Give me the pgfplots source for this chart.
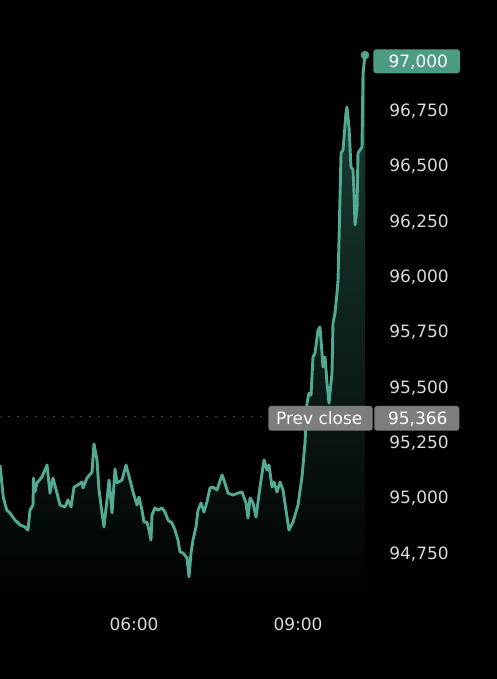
\documentclass[border=0pt]{standalone}
\usepackage{fontspec}
\setmainfont{DejaVu Sans}
\usepackage{pgfplots}
\pgfplotsset{compat=1.18}
\definecolor{lineteal}{RGB}{82,170,146}
\definecolor{boxteal}{RGB}{76,156,132}
\definecolor{fillteal}{RGB}{28,66,57}
\definecolor{boxgray}{RGB}{125,125,125}
\definecolor{ticktxt}{RGB}{218,218,218}
\definecolor{dotgray}{RGB}{140,140,140}
\begin{document}
\begin{tikzpicture}[x=1pt,y=1pt]
\useasboundingbox (0,0) rectangle (497,679);
\fill[black] (0,0) rectangle (497,679);
\begin{axis}[
  at={(0pt,70.9pt)}, anchor=south west,
  scale only axis, width=365pt, height=575.1pt,
  xmin=3.549, xmax=10.2255, ymin=94500, ymax=97100,
  clip=false,
  scaled x ticks=false, scaled y ticks=false,
  axis line style={draw=none}, tick style={draw=none},
  xtick={6,9}, xticklabels={06:00,09:00},
  ytick={94750,95000,95250,95500,95750,96000,96250,96500,96750},
  yticklabels={{94,750},{95,000},{95,250},{95,500},{95,750},{96,000},{96,250},{96,500},{96,750}},
  yticklabel pos=right,
  every tick label/.append style={font=\fontsize{17}{20}\selectfont, text=ticktxt, inner sep=0pt},
  xticklabel style={anchor=base, yshift=-22.8pt},
  yticklabel style={anchor=base east, xshift=84pt, yshift=-6.2pt},
  /pgf/number format/assume math mode=true,
]
% area fill
\addplot[draw=none, top color=fillteal, bottom color=black] coordinates {
(3.549,95147)(3.609,95002)(3.672,94943)(3.732,94930)(3.823,94898)(3.915,94876)(4.006,94867)(4.061,94853)
(4.098,94943)(4.153,94966)(4.162,95088)(4.189,95025)(4.226,95066)(4.317,95093)(4.409,95147)(4.464,95020)
(4.518,95088)(4.592,95020)(4.646,94966)(4.738,94957)(4.793,94989)(4.848,94957)(4.903,95047)(4.976,95057)
(5.049,95070)(5.067,95043)(5.140,95088)(5.232,95115)(5.268,95242)(5.323,95170)(5.360,95034)(5.415,94930)
(5.451,94867)(5.506,94989)(5.543,95079)(5.598,94930)(5.653,95129)(5.689,95066)(5.781,95079)(5.854,95147)
(5.927,95079)(5.982,95025)(6.055,94966)(6.092,95002)(6.146,94943)(6.183,94889)(6.238,94889)(6.274,94853)
(6.311,94808)(6.329,94921)(6.384,94953)(6.439,94943)(6.512,94953)(6.567,94934)(6.622,94898)(6.695,94885)
(6.750,94853)(6.805,94808)(6.841,94754)(6.896,94749)(6.970,94727)(7.006,94641)(7.043,94749)(7.079,94808)
(7.134,94867)(7.171,94943)(7.226,94975)(7.280,94934)(7.335,94980)(7.390,95043)(7.445,95047)(7.518,95034)
(7.610,95102)(7.646,95079)(7.720,95020)(7.811,95011)(7.902,95020)(7.976,95025)(8.049,94975)(8.085,94907)
(8.122,94998)(8.177,94975)(8.232,94912)(8.305,95047)(8.378,95170)(8.433,95124)(8.470,95147)(8.524,95047)
(8.561,95070)(8.616,95025)(8.671,95070)(8.726,95034)(8.780,94943)(8.835,94853)(8.908,94889)(9.000,94966)
(9.073,95093)(9.128,95246)(9.165,95427)(9.201,95472)(9.238,95463)(9.274,95635)(9.311,95653)(9.366,95757)
(9.402,95771)(9.439,95653)(9.457,95590)(9.494,95635)(9.530,95518)(9.567,95427)(9.622,95563)(9.640,95789)
(9.677,95834)(9.713,95924)(9.732,95983)(9.750,96164)(9.787,96557)(9.823,96571)(9.878,96738)(9.896,96765)
(9.933,96675)(9.969,96494)(10.006,96481)(10.024,96377)(10.043,96232)(10.079,96300)(10.097,96557)(10.134,96571)
(10.171,96585)(10.189,96917)(10.2255,97000)
} \closedcycle;
% prev close dotted line
\addplot[dotgray, line width=1.3pt, line cap=round, dash pattern=on 0pt off 9pt] coordinates {(3.549,95366)(8.43,95366)};
% price line
\addplot[lineteal, line width=2.9pt, line join=round] coordinates {
(3.549,95147)(3.609,95002)(3.672,94943)(3.732,94930)(3.823,94898)(3.915,94876)(4.006,94867)(4.061,94853)
(4.098,94943)(4.153,94966)(4.162,95088)(4.189,95025)(4.226,95066)(4.317,95093)(4.409,95147)(4.464,95020)
(4.518,95088)(4.592,95020)(4.646,94966)(4.738,94957)(4.793,94989)(4.848,94957)(4.903,95047)(4.976,95057)
(5.049,95070)(5.067,95043)(5.140,95088)(5.232,95115)(5.268,95242)(5.323,95170)(5.360,95034)(5.415,94930)
(5.451,94867)(5.506,94989)(5.543,95079)(5.598,94930)(5.653,95129)(5.689,95066)(5.781,95079)(5.854,95147)
(5.927,95079)(5.982,95025)(6.055,94966)(6.092,95002)(6.146,94943)(6.183,94889)(6.238,94889)(6.274,94853)
(6.311,94808)(6.329,94921)(6.384,94953)(6.439,94943)(6.512,94953)(6.567,94934)(6.622,94898)(6.695,94885)
(6.750,94853)(6.805,94808)(6.841,94754)(6.896,94749)(6.970,94727)(7.006,94641)(7.043,94749)(7.079,94808)
(7.134,94867)(7.171,94943)(7.226,94975)(7.280,94934)(7.335,94980)(7.390,95043)(7.445,95047)(7.518,95034)
(7.610,95102)(7.646,95079)(7.720,95020)(7.811,95011)(7.902,95020)(7.976,95025)(8.049,94975)(8.085,94907)
(8.122,94998)(8.177,94975)(8.232,94912)(8.305,95047)(8.378,95170)(8.433,95124)(8.470,95147)(8.524,95047)
(8.561,95070)(8.616,95025)(8.671,95070)(8.726,95034)(8.780,94943)(8.835,94853)(8.908,94889)(9.000,94966)
(9.073,95093)(9.128,95246)(9.165,95427)(9.201,95472)(9.238,95463)(9.274,95635)(9.311,95653)(9.366,95757)
(9.402,95771)(9.439,95653)(9.457,95590)(9.494,95635)(9.530,95518)(9.567,95427)(9.622,95563)(9.640,95789)
(9.677,95834)(9.713,95924)(9.732,95983)(9.750,96164)(9.787,96557)(9.823,96571)(9.878,96738)(9.896,96765)
(9.933,96675)(9.969,96494)(10.006,96481)(10.024,96377)(10.043,96232)(10.079,96300)(10.097,96557)(10.134,96571)
(10.171,96585)(10.189,96917)(10.2255,97000)
};
% last point marker
\addplot[lineteal, only marks, mark=*, mark size=4pt] coordinates {(10.2255,97000)};
\end{axis}
% Prev close label boxes
\fill[boxgray, rounded corners=3pt] (268.3,248.3) rectangle (372.7,273);
\fill[boxgray, rounded corners=3pt] (374.3,248.3) rectangle (459.3,273);
\node[anchor=base, inner sep=0pt, text=white, font=\fontsize{17}{20}\selectfont] at (319.2,254) {Prev close};
\node[anchor=base, inner sep=0pt, text=white, font=\fontsize{17}{20}\selectfont] at (417.8,254) {95,366};
% last price box
\fill[boxteal, rounded corners=3pt] (373.3,605.7) rectangle (460,629.7);
\node[anchor=base, inner sep=0pt, text=white, font=\fontsize{17}{20}\selectfont] at (418.3,611.7) {97,000};
\end{tikzpicture}
\end{document}
